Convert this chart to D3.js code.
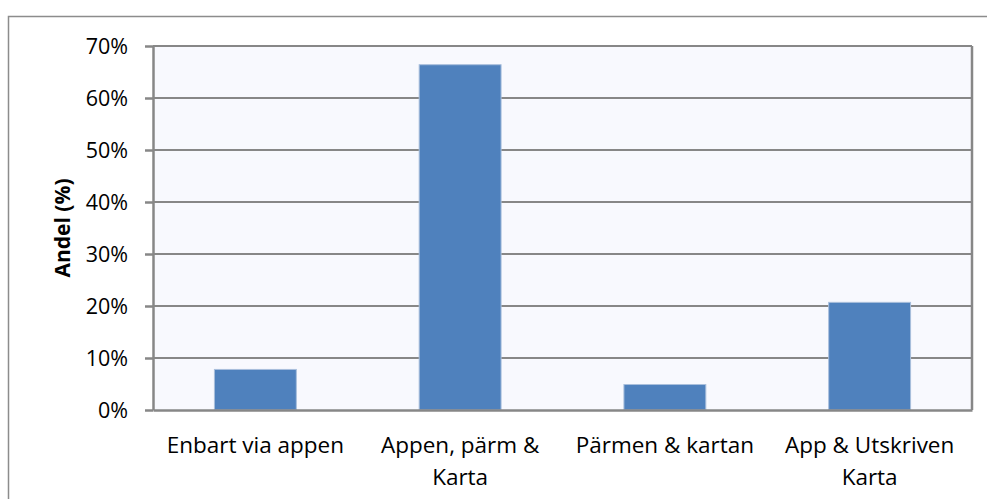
<!DOCTYPE html>
<html lang="sv">
<head>
<meta charset="UTF-8">
<title>Andel (%)</title>
<style>
  body { margin: 0; background: #fff; }
  svg { display: block; }
  svg text { font-family: "Open Sans", "Noto Sans", sans-serif; }
  .grid line { stroke: #878787; stroke-width: 2; }
  .axis path, .axis line { stroke: #878787; stroke-width: 2.5; }
  .axis text { fill: #000; }
  .axis--y text { font-size: 21.5px; }
  .axis--x text { font-size: 22.5px; }
  .bar { fill: #4f81bd; stroke: #a9bfdc; stroke-width: 1; }
</style>
</head>
<body>
<script src="https://cdn.jsdelivr.net/npm/d3@7"></script>
<script>
  // data
  var categories = ["Enbart via appen", "Appen, pärm & Karta", "Pärmen & kartan", "App & Utskriven Karta"];
  var shares = [0.078, 0.664, 0.049, 0.207];
  var yTicks = [0, 0.1, 0.2, 0.3, 0.4, 0.5, 0.6, 0.7];

  var W = 987, H = 499;
  var margin = {top: 46, right: 15, bottom: 89, left: 153},
      width = 972 - margin.left,
      height = 410 - margin.top;

  var svg = d3.select("body").append("svg")
      .attr("width", W)
      .attr("height", H);

  // outer frame
  svg.append("rect")
      .attr("x", 8.5).attr("y", 16.5)
      .attr("width", W).attr("height", H)
      .attr("fill", "none")
      .attr("stroke", "#8c8c8c")
      .attr("stroke-width", 1.5);

  var g = svg.append("g")
      .attr("transform", "translate(" + margin.left + "," + margin.top + ")");

  var x = d3.scaleBand().domain(categories).range([0, width])
      .paddingInner(0.6).paddingOuter(0.3);
  var y = d3.scaleLinear().domain([0, 0.7]).range([height, 0]);

  g.append("rect")
      .attr("width", width).attr("height", height)
      .attr("fill", "#f8f9fe");

  g.append("g")
      .attr("class", "grid")
      .selectAll("line")
      .data(yTicks.slice(1))
      .enter().append("line")
      .attr("x1", 0).attr("x2", width)
      .attr("y1", function(d) { return y(d); })
      .attr("y2", function(d) { return y(d); });

  // right border of plot area
  g.append("line")
      .attr("x1", width).attr("x2", width)
      .attr("y1", 0).attr("y2", height)
      .attr("stroke", "#878787").attr("stroke-width", 2.5);

  g.selectAll(".bar")
      .data(shares)
      .enter().append("rect")
      .attr("class", "bar")
      .attr("x", function(d, i) { return x(categories[i]); })
      .attr("y", function(d) { return y(d); })
      .attr("width", x.bandwidth())
      .attr("height", function(d) { return height - y(d); });

  g.append("g")
      .attr("class", "axis axis--y")
      .call(d3.axisLeft(y).tickValues(yTicks).tickFormat(d3.format(".0%"))
          .tickSizeInner(8).tickSizeOuter(0).tickPadding(17))
      .selectAll("text").attr("dy", "0.36em");

  var xa = g.append("g")
      .attr("class", "axis axis--x")
      .attr("transform", "translate(0," + height + ")")
      .call(d3.axisBottom(x).tickSize(0).tickSizeOuter(0).tickPadding(0));

  // wrap long labels over two lines, like the original
  xa.selectAll("text").each(function(d) {
    var t = d3.select(this).text(null).attr("y", 0).attr("dy", null);
    var words = d.split(" "), line = [], lines = [];
    var probe = t.append("tspan");
    words.forEach(function(w) {
      line.push(w);
      probe.text(line.join(" "));
      if (probe.node().getComputedTextLength() > x.step() - 6 && line.length > 1) {
        line.pop();
        lines.push(line.join(" "));
        line = [w];
      }
    });
    lines.push(line.join(" "));
    probe.remove();
    lines.forEach(function(l, k) {
      t.append("tspan").attr("x", 0).attr("y", 43 + k * 32).text(l);
    });
  });

  g.append("text")
      .attr("transform", "rotate(-90)")
      .attr("x", -height / 2)
      .attr("y", -83)
      .attr("text-anchor", "middle")
      .attr("font-size", "21px")
      .attr("font-weight", "bold")
      .text("Andel (%)");
</script>
</body>
</html>
